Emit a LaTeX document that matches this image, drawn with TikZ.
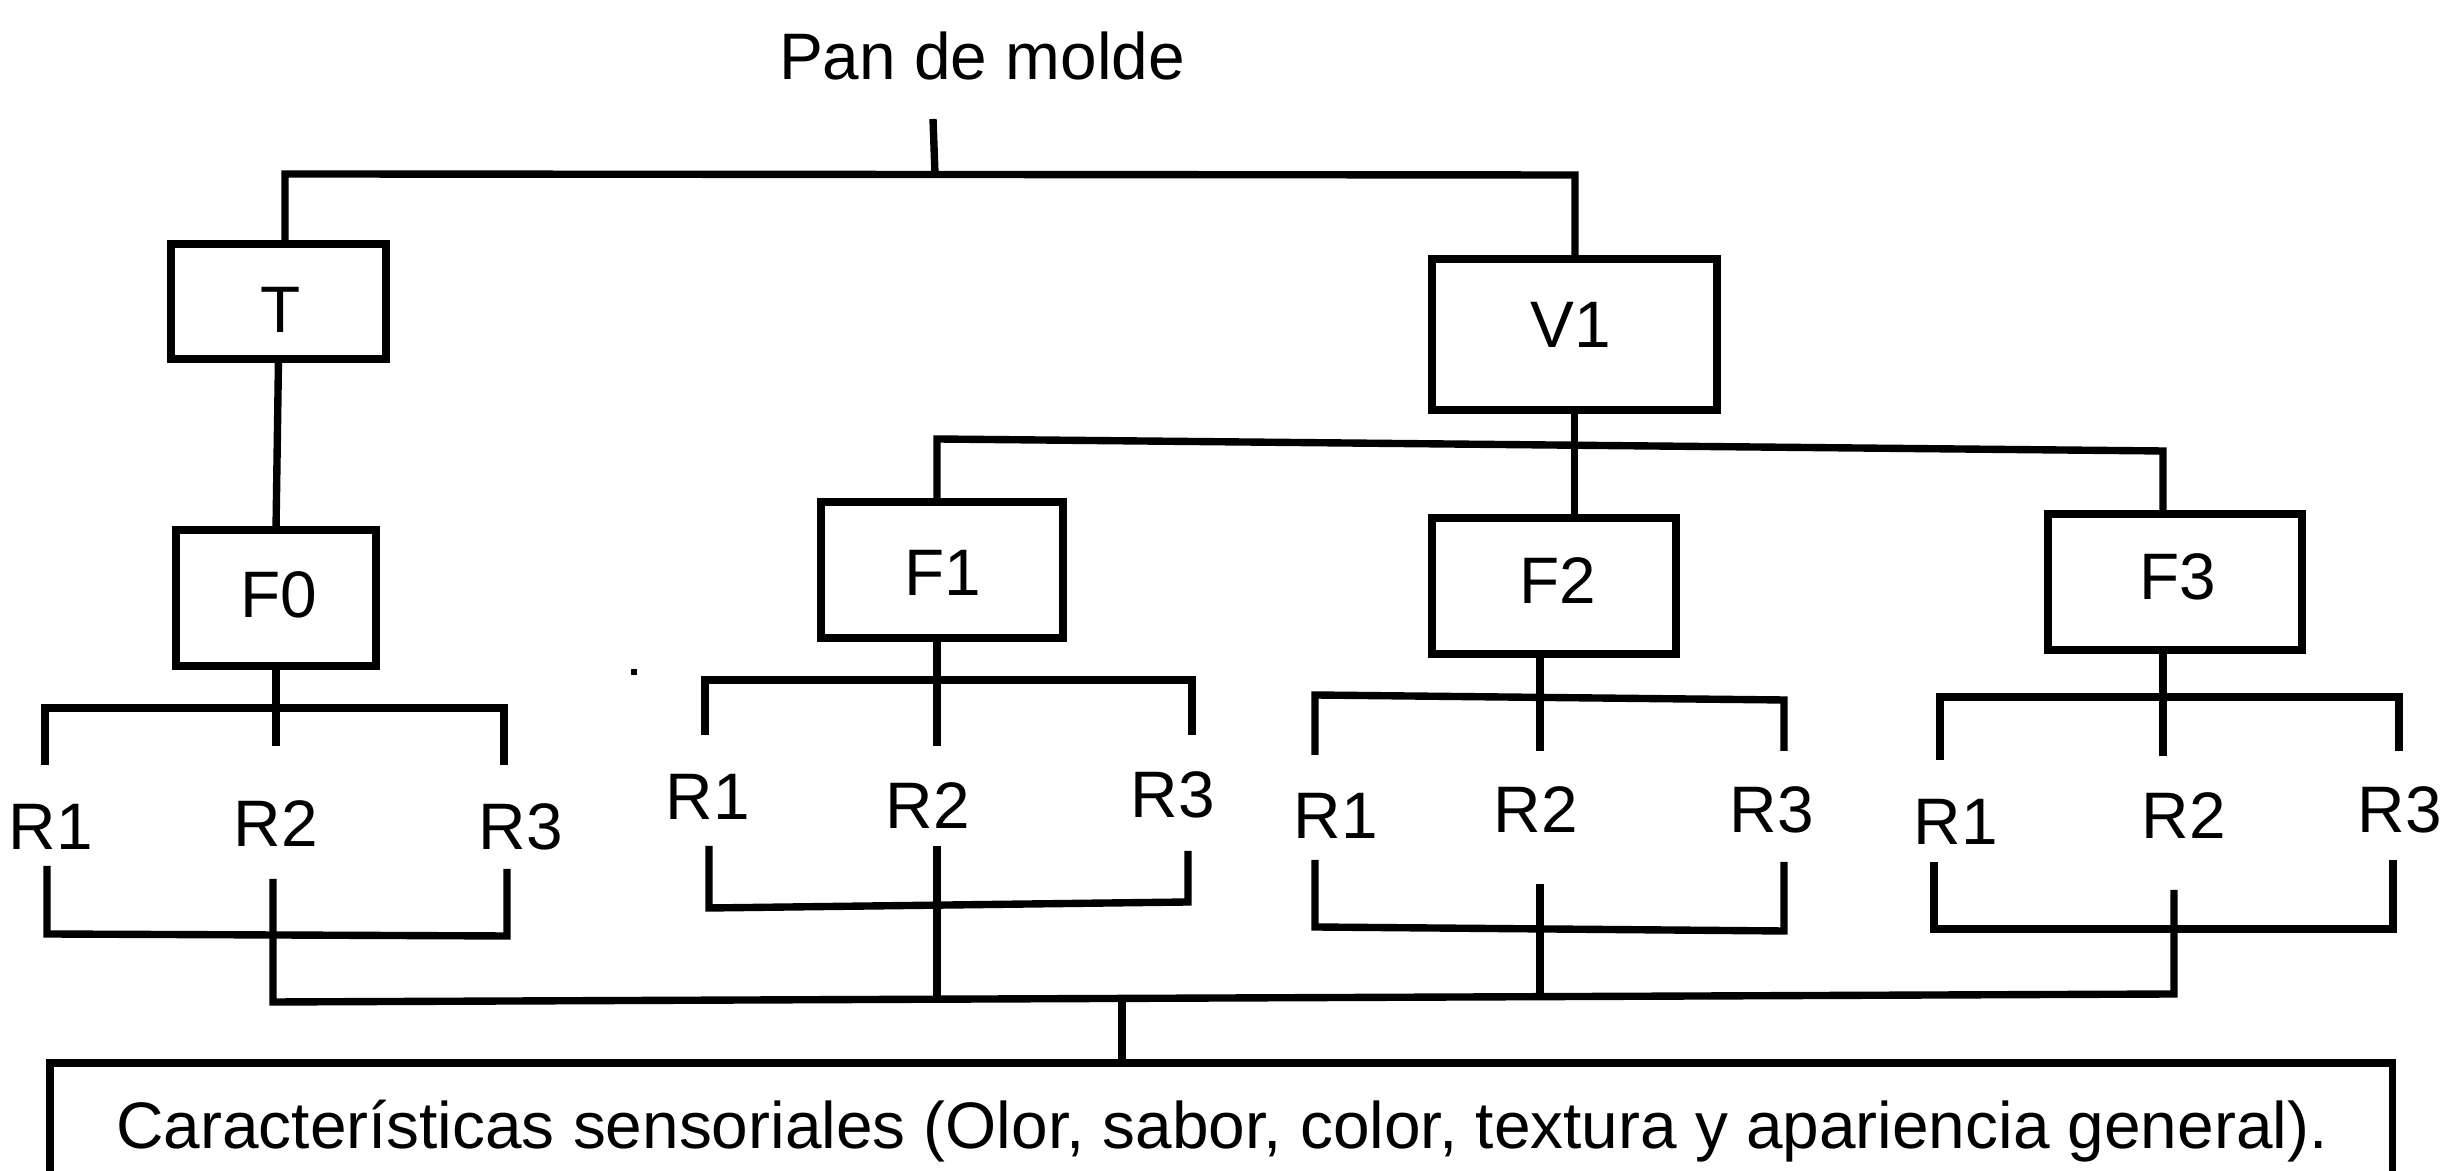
\documentclass[tikz,border=0pt]{standalone}
\usepackage{fontspec}
\setmainfont{Liberation Sans}
\begin{document}
\begin{tikzpicture}[x=0.01cm, y=-0.01cm,
  wire/.style={line width=2.1pt},
  box/.style={draw, line width=2.1pt, inner sep=0pt, outer sep=0pt},
  lbl/.style={font=\fontsize{18.7}{22}\selectfont, inner sep=0pt, anchor=base}]
\useasboundingbox (0,0) rectangle (2448,1171);
\clip (0,0) rectangle (2448,1171);

% ---------- boxes ----------
\node[box, minimum width=2.15cm, minimum height=1.15cm] (t)  at (278.5,301.5) {};
\node[box, minimum width=2.85cm, minimum height=1.51cm] (v1) at (1574.5,334.5) {};
\node[box, minimum width=2.00cm, minimum height=1.36cm] (f0) at (276,598) {};
\node[box, minimum width=2.42cm, minimum height=1.36cm] (f1) at (942,570) {};
\node[box, minimum width=2.44cm, minimum height=1.36cm] (f2) at (1554,586) {};
\node[box, minimum width=2.54cm, minimum height=1.36cm] (f3) at (2175,582) {};
\node[box, anchor=north west, minimum width=23.41cm, minimum height=3cm] (panel) at (50,1063) {};

% ---------- texts ----------
\node[lbl] (title) at (982,80) {Pan de molde};
\node[lbl] (tl)  at (281,333)  {T};
\node[lbl] (v1l) at (1571,348) {V1};
\node[lbl] (f0l) at (279,618)  {F0};
\node[lbl] (f1l) at (943,596)  {F1};
\node[lbl] (f2l) at (1558,604) {F2};
\node[lbl] (f3l) at (2178,600) {F3};

\node[lbl] (r01) at (51,850)   {R1};
\node[lbl] (r02) at (276,847)  {R2};
\node[lbl] (r03) at (521,850)  {R3};
\node[lbl] (r11) at (708,820)  {R1};
\node[lbl] (r12) at (928,829)  {R2};
\node[lbl] (r13) at (1173,818) {R3};
\node[lbl] (r21) at (1336,839) {R1};
\node[lbl] (r22) at (1536,833) {R2};
\node[lbl] (r23) at (1772,833) {R3};
\node[lbl] (r31) at (1956,845) {R1};
\node[lbl] (r32) at (2184,839) {R2};
\node[lbl] (r33) at (2400,833) {R3};

\node[lbl] (caption) at (1222,1149)
  {Características sensoriales (Olor, sabor, color, textura y apariencia general).};

% ---------- top of the tree ----------
\coordinate (rootTop) at (933,119);
\coordinate (rootJ)   at (935,174);
\coordinate (tJ)      at (285,174);
\coordinate (vJ)      at (1575,175);
\draw[wire] (rootTop) -- (rootJ);
\draw[wire] (t.north -| tJ) -- (tJ) -- (vJ) -- (v1.north -| vJ);
\draw[wire] (t.south) -- (f0.north);

% V1 branches
\coordinate (f1J) at (937,439);
\coordinate (f3J) at (2163,451);
\draw[wire] (f1.north -| f1J) -- (f1J) -- (f3J) -- (f3.north -| f3J);
\draw[wire] (v1.south) -- (v1.south |- f2.north);

% ---------- upper brackets (box -> R1, R2, R3) ----------
% F0
\coordinate (f0s) at (276,746);
\coordinate (f0a) at (45,708);   \coordinate (f0b) at (504,708);
\coordinate (f0la) at (45,765);  \coordinate (f0lb) at (504,765);
\draw[wire] (f0.south) -- (f0s);
\draw[wire] (f0la) -- (f0a) -- (f0b) -- (f0lb);
% F1
\coordinate (f1s) at (937,746);
\coordinate (f1a) at (705,680);  \coordinate (f1b) at (1192,680);
\coordinate (f1la) at (705,735); \coordinate (f1lb) at (1192,735);
\draw[wire] (f1.south -| f1s) -- (f1s);
\draw[wire] (f1la) -- (f1a) -- (f1b) -- (f1lb);
% F2
\coordinate (f2s) at (1540,751);
\coordinate (f2a) at (1315,695); \coordinate (f2b) at (1784,700);
\coordinate (f2la) at (1315,755); \coordinate (f2lb) at (1784,751);
\draw[wire] (f2.south -| f2s) -- (f2s);
\draw[wire] (f2la) -- (f2a) -- (f2b) -- (f2lb);
% F3
\coordinate (f3s) at (2163,756);
\coordinate (f3a) at (1940,697); \coordinate (f3b) at (2399,697);
\coordinate (f3la) at (1940,760); \coordinate (f3lb) at (2399,751);
\draw[wire] (f3.south -| f3s) -- (f3s);
\draw[wire] (f3la) -- (f3a) -- (f3b) -- (f3lb);

% ---------- lower brackets (R1, R2, R3 -> common bar) ----------
\draw[wire] (47,866) -- (47,934) -- (507,936) -- (507,869);
\draw[wire] (709,846) -- (709,908) -- (1188,902) -- (1188,851);
\draw[wire] (1315,860) -- (1315,927) -- (1784,931) -- (1784,862);
\draw[wire] (1934,862) -- (1934,929) -- (2393,929) -- (2393,860);

% common bar
\coordinate (m0top) at (273,879);   \coordinate (m0bot) at (273,1002);
\coordinate (m3top) at (2174,890);  \coordinate (m3bot) at (2174,994);
\draw[wire] (m0top) -- (m0bot) -- (m3bot) -- (m3top);
\coordinate (m1top) at (937,846);   \coordinate (m1bot) at (937,999);
\coordinate (m2top) at (1540,884);  \coordinate (m2bot) at (1540,997);
\draw[wire] (m1top) -- (m1bot);
\draw[wire] (m2top) -- (m2bot);

% down to the panel
\coordinate (pj) at (1122,998);
\draw[wire] (pj) -- (pj |- panel.north);

% stray mark
\fill (631,669) rectangle (637,675);
\end{tikzpicture}
\end{document}
